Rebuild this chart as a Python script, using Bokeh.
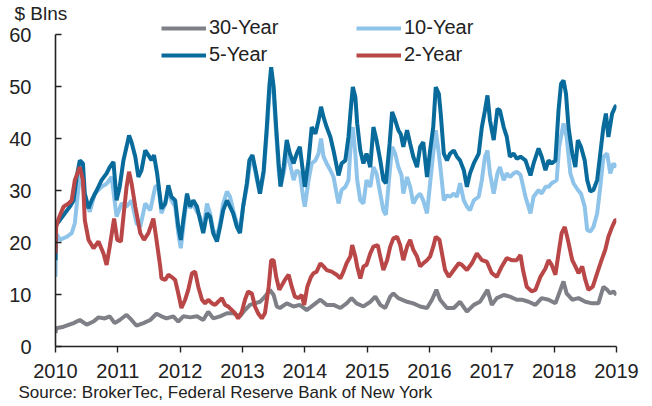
from bokeh.plotting import figure
from bokeh.models import Range1d, FixedTicker, Legend, LegendItem, Title
from bokeh.embed import file_html
from bokeh.resources import INLINE

# ---------------- data (decimal years, $ billions) ----------------
series_names = ["30-Year", "10-Year", "5-Year", "2-Year"]
x_tick_labels = ["2010", "2011", "2012", "2013", "2014", "2015", "2016", "2017", "2018", "2019"]
y_ticks = [0, 10, 20, 30, 40, 50, 60]

years_5 = [2010.00, 2010.01, 2010.07, 2010.15, 2010.23, 2010.29, 2010.34, 2010.39, 2010.44, 2010.47,
           2010.53, 2010.58, 2010.66, 2010.74, 2010.82, 2010.87, 2010.93, 2010.98, 2011.03, 2011.09,
           2011.14, 2011.18, 2011.22, 2011.28, 2011.33, 2011.38, 2011.44, 2011.49, 2011.54, 2011.58,
           2011.63, 2011.70, 2011.76, 2011.81, 2011.86, 2011.92, 2011.97, 2012.01, 2012.05, 2012.11,
           2012.16, 2012.21, 2012.27, 2012.32, 2012.37, 2012.43, 2012.48, 2012.53, 2012.59, 2012.64,
           2012.69, 2012.75, 2012.80, 2012.85, 2012.91, 2012.96, 2013.01, 2013.07, 2013.11, 2013.16,
           2013.22, 2013.28, 2013.34, 2013.39, 2013.43, 2013.46, 2013.50, 2013.54, 2013.58, 2013.61,
           2013.66, 2013.71, 2013.76, 2013.82, 2013.87, 2013.92, 2013.98, 2014.00, 2014.06, 2014.11,
           2014.17, 2014.22, 2014.26, 2014.30, 2014.35, 2014.41, 2014.46, 2014.54, 2014.59, 2014.65,
           2014.70, 2014.74, 2014.77, 2014.81, 2014.84, 2014.89, 2014.94, 2014.99, 2015.05, 2015.10,
           2015.15, 2015.21, 2015.26, 2015.30, 2015.36, 2015.40, 2015.45, 2015.50, 2015.54, 2015.58,
           2015.64, 2015.69, 2015.74, 2015.80, 2015.85, 2015.90, 2015.96, 2016.01, 2016.06, 2016.10,
           2016.15, 2016.18, 2016.23, 2016.28, 2016.33, 2016.39, 2016.44, 2016.49, 2016.55, 2016.60,
           2016.65, 2016.71, 2016.79, 2016.84, 2016.89, 2016.93, 2016.97, 2017.03, 2017.09, 2017.13,
           2017.19, 2017.24, 2017.29, 2017.35, 2017.40, 2017.46, 2017.54, 2017.62, 2017.67, 2017.75,
           2017.80, 2017.86, 2017.91, 2017.96, 2018.02, 2018.07, 2018.11, 2018.15, 2018.19, 2018.23,
           2018.29, 2018.34, 2018.38, 2018.43, 2018.49, 2018.53, 2018.58, 2018.63, 2018.69, 2018.74,
           2018.79, 2018.83, 2018.87, 2018.93, 2018.98, 2019.00]
vals_5 = [16.6, 23.4, 24.3, 25.6, 26.9, 28.1, 32.6, 35.8, 35.2, 29.4,
          26.6, 28.1, 30.0, 32.0, 33.3, 34.5, 35.5, 28.1, 30.7, 35.8,
          38.4, 40.6, 39.3, 36.5, 32.6, 33.9, 37.7, 36.8, 35.8, 36.8,
          33.3, 26.5, 27.5, 31.0, 28.8, 28.1, 23.0, 20.5, 24.3, 29.4,
          26.9, 28.1, 26.9, 24.3, 21.8, 25.6, 25.0, 21.8, 20.2, 23.0,
          26.2, 28.1, 26.9, 25.6, 23.0, 21.8, 26.9, 31.4, 35.8, 36.8,
          33.3, 29.4, 33.9, 42.2, 49.9, 53.7, 49.9, 42.2, 35.2, 30.8,
          34.5, 39.7, 37.1, 35.2, 37.1, 38.4, 32.6, 30.7, 35.8, 42.2,
          40.9, 43.5, 46.1, 44.1, 42.2, 40.3, 37.7, 32.9, 35.2, 35.8,
          40.3, 46.1, 49.9, 48.0, 42.9, 37.7, 35.2, 37.1, 34.5, 42.2,
          39.7, 35.8, 32.0, 31.4, 39.0, 45.1, 43.5, 41.6, 40.8, 38.4,
          41.6, 39.0, 36.5, 34.5, 38.4, 39.3, 32.6, 37.7, 42.2, 49.9,
          48.6, 44.8, 37.1, 35.8, 37.1, 37.7, 36.5, 35.8, 33.9, 30.7,
          33.3, 35.2, 37.1, 42.2, 45.4, 48.3, 43.5, 39.7, 45.7, 45.4,
          42.2, 40.3, 36.5, 37.1, 36.1, 36.5, 35.8, 32.9, 35.2, 38.1,
          36.5, 33.9, 35.8, 35.2, 35.8, 45.4, 50.5, 51.2, 48.6, 42.2,
          37.1, 34.5, 39.7, 38.4, 35.8, 32.0, 29.8, 30.1, 32.0, 37.1,
          42.2, 44.8, 40.3, 44.8, 46.1, 46.4]

years_10 = [2010.00, 2010.01, 2010.07, 2010.18, 2010.26, 2010.31, 2010.37, 2010.42, 2010.47, 2010.55,
            2010.63, 2010.74, 2010.82, 2010.90, 2010.98, 2011.06, 2011.14, 2011.22, 2011.30, 2011.36,
            2011.44, 2011.52, 2011.60, 2011.65, 2011.70, 2011.76, 2011.81, 2011.86, 2011.92, 2011.97,
            2012.01, 2012.05, 2012.11, 2012.16, 2012.21, 2012.27, 2012.32, 2012.37, 2012.43, 2012.48,
            2012.53, 2012.59, 2012.64, 2012.69, 2012.75, 2012.80, 2012.85, 2012.91, 2012.96, 2013.01,
            2013.07, 2013.12, 2013.17, 2013.23, 2013.28, 2013.34, 2013.39, 2013.43, 2013.46, 2013.50,
            2013.54, 2013.58, 2013.61, 2013.66, 2013.71, 2013.76, 2013.82, 2013.87, 2013.92, 2013.98,
            2014.00, 2014.06, 2014.11, 2014.17, 2014.22, 2014.26, 2014.30, 2014.35, 2014.41, 2014.46,
            2014.54, 2014.59, 2014.65, 2014.70, 2014.74, 2014.77, 2014.81, 2014.84, 2014.89, 2014.94,
            2014.99, 2015.05, 2015.10, 2015.15, 2015.21, 2015.26, 2015.30, 2015.36, 2015.40, 2015.45,
            2015.50, 2015.55, 2015.58, 2015.64, 2015.69, 2015.74, 2015.80, 2015.85, 2015.90, 2015.96,
            2016.01, 2016.06, 2016.10, 2016.15, 2016.18, 2016.23, 2016.28, 2016.33, 2016.39, 2016.44,
            2016.49, 2016.55, 2016.60, 2016.65, 2016.71, 2016.79, 2016.84, 2016.89, 2016.93, 2016.97,
            2017.03, 2017.09, 2017.13, 2017.19, 2017.24, 2017.29, 2017.35, 2017.40, 2017.46, 2017.54,
            2017.62, 2017.67, 2017.75, 2017.80, 2017.86, 2017.91, 2017.96, 2018.04, 2018.08, 2018.15,
            2018.20, 2018.26, 2018.31, 2018.38, 2018.43, 2018.49, 2018.53, 2018.58, 2018.63, 2018.69,
            2018.74, 2018.79, 2018.85, 2018.90, 2018.95, 2019.00]
vals_10 = [13.4, 21.8, 20.5, 21.1, 21.8, 23.7, 30.7, 33.3, 28.1, 25.9,
           29.4, 30.7, 31.3, 32.6, 25.0, 27.5, 26.9, 28.1, 23.7, 23.0,
           27.5, 26.2, 30.7, 31.0, 25.6, 27.5, 30.0, 28.1, 26.9, 21.8,
           18.9, 23.0, 28.8, 26.6, 27.5, 25.9, 24.9, 22.4, 27.5, 25.6,
           22.4, 21.1, 23.7, 27.5, 29.8, 28.8, 26.2, 23.7, 22.4, 26.9,
           30.7, 35.2, 35.8, 32.0, 29.4, 33.3, 40.9, 48.6, 51.0, 48.6,
           40.9, 33.9, 30.7, 33.3, 37.1, 35.2, 32.0, 33.9, 33.3, 28.1,
           26.9, 32.0, 35.2, 35.8, 37.1, 40.0, 36.5, 35.2, 33.9, 32.6,
           27.5, 30.1, 30.7, 32.0, 39.7, 42.2, 37.1, 32.0, 28.1, 27.5,
           32.0, 30.7, 34.5, 33.3, 29.4, 26.2, 25.3, 33.3, 38.4, 37.1,
           34.5, 33.0, 29.4, 32.6, 30.7, 27.5, 28.8, 29.4, 28.1, 25.6,
           31.4, 37.1, 41.6, 37.1, 33.9, 28.1, 29.1, 28.8, 29.4, 28.8,
           31.4, 28.1, 26.9, 26.2, 28.1, 28.8, 32.0, 36.5, 37.7, 33.3,
           29.4, 33.3, 34.5, 32.0, 33.3, 32.6, 33.3, 33.6, 33.0, 28.8,
           25.6, 28.8, 30.1, 29.4, 30.7, 30.7, 31.4, 32.0, 38.4, 42.9,
           40.3, 33.3, 31.4, 30.1, 29.4, 26.9, 22.4, 22.1, 23.0, 25.6,
           30.7, 36.5, 37.1, 33.3, 35.2, 34.5]

years_2 = [2010.00, 2010.01, 2010.05, 2010.13, 2010.21, 2010.26, 2010.31, 2010.37, 2010.39, 2010.44,
           2010.47, 2010.53, 2010.61, 2010.69, 2010.77, 2010.82, 2010.87, 2010.94, 2010.99, 2011.05,
           2011.10, 2011.14, 2011.18, 2011.22, 2011.28, 2011.36, 2011.42, 2011.49, 2011.57, 2011.62,
           2011.68, 2011.70, 2011.76, 2011.81, 2011.86, 2011.92, 2011.97, 2012.02, 2012.08, 2012.13,
           2012.19, 2012.24, 2012.29, 2012.35, 2012.40, 2012.45, 2012.51, 2012.56, 2012.61, 2012.67,
           2012.72, 2012.77, 2012.83, 2012.88, 2012.93, 2012.99, 2013.04, 2013.09, 2013.15, 2013.20,
           2013.25, 2013.31, 2013.36, 2013.42, 2013.46, 2013.50, 2013.54, 2013.59, 2013.68, 2013.74,
           2013.79, 2013.84, 2013.90, 2013.95, 2013.99, 2014.04, 2014.10, 2014.14, 2014.19, 2014.25,
           2014.30, 2014.35, 2014.43, 2014.51, 2014.57, 2014.62, 2014.67, 2014.73, 2014.76, 2014.81,
           2014.84, 2014.89, 2014.94, 2014.99, 2015.05, 2015.10, 2015.17, 2015.21, 2015.26, 2015.32,
           2015.37, 2015.42, 2015.48, 2015.53, 2015.58, 2015.64, 2015.69, 2015.74, 2015.80, 2015.85,
           2015.90, 2015.96, 2016.01, 2016.06, 2016.10, 2016.16, 2016.20, 2016.25, 2016.31, 2016.39,
           2016.47, 2016.52, 2016.60, 2016.68, 2016.76, 2016.84, 2016.92, 2017.00, 2017.08, 2017.16,
           2017.24, 2017.32, 2017.40, 2017.46, 2017.50, 2017.56, 2017.64, 2017.70, 2017.78, 2017.86,
           2017.91, 2017.96, 2018.02, 2018.07, 2018.12, 2018.17, 2018.22, 2018.29, 2018.34, 2018.39,
           2018.45, 2018.50, 2018.55, 2018.62, 2018.69, 2018.76, 2018.82, 2018.87, 2018.93, 2018.98,
           2019.00]
vals_2 = [17.9, 23.0, 24.6, 26.9, 27.5, 28.1, 32.0, 33.9, 34.5, 32.0,
          24.3, 20.5, 18.9, 20.2, 17.9, 15.7, 19.2, 24.6, 20.5, 20.2,
          26.2, 30.7, 33.6, 31.4, 26.9, 21.8, 20.5, 21.8, 24.6, 20.5,
          15.4, 13.1, 12.8, 13.8, 13.4, 12.8, 10.2, 7.4, 9.0, 10.9,
          14.1, 14.4, 11.5, 9.0, 8.3, 9.0, 8.3, 8.0, 8.6, 9.3,
          8.0, 7.7, 7.0, 6.4, 5.4, 6.7, 9.0, 10.6, 10.2, 7.7,
          6.4, 5.4, 6.4, 11.5, 16.6, 16.6, 13.4, 10.9, 12.8, 13.8,
          11.5, 9.6, 9.3, 9.9, 8.0, 11.5, 13.4, 14.1, 14.4, 16.0,
          15.4, 14.7, 14.4, 13.8, 13.1, 14.4, 16.0, 17.3, 19.5, 17.3,
          15.4, 13.1, 15.4, 15.7, 17.9, 19.2, 19.5, 17.3, 14.7, 16.6,
          19.2, 20.8, 21.1, 19.5, 16.6, 19.2, 20.5, 18.6, 17.3, 15.4,
          16.0, 16.6, 17.3, 19.2, 21.1, 20.5, 17.9, 14.7, 13.4, 14.7,
          16.0, 15.7, 14.7, 16.0, 17.9, 16.6, 16.3, 14.1, 13.4, 15.4,
          17.0, 16.6, 16.6, 17.6, 14.7, 11.5, 10.6, 10.9, 13.4, 15.0,
          16.6, 15.7, 13.8, 17.9, 21.8, 23.0, 20.5, 16.6, 15.4, 14.1,
          15.4, 12.8, 10.9, 11.5, 14.1, 16.6, 18.6, 21.1, 23.0, 24.3,
          24.3]

years_30 = [2010.00, 2010.01, 2010.13, 2010.29, 2010.39, 2010.50, 2010.61, 2010.69, 2010.79, 2010.87,
            2010.95, 2011.03, 2011.14, 2011.22, 2011.30, 2011.41, 2011.52, 2011.62, 2011.70, 2011.78,
            2011.89, 2011.97, 2012.05, 2012.16, 2012.27, 2012.37, 2012.45, 2012.53, 2012.64, 2012.75,
            2012.85, 2012.96, 2013.04, 2013.12, 2013.20, 2013.28, 2013.36, 2013.44, 2013.50, 2013.55,
            2013.60, 2013.71, 2013.82, 2013.92, 2014.03, 2014.14, 2014.25, 2014.35, 2014.46, 2014.57,
            2014.67, 2014.75, 2014.83, 2014.94, 2015.05, 2015.13, 2015.21, 2015.29, 2015.37, 2015.42,
            2015.50, 2015.64, 2015.74, 2015.85, 2015.96, 2016.04, 2016.11, 2016.17, 2016.28, 2016.39,
            2016.49, 2016.60, 2016.71, 2016.81, 2016.93, 2017.00, 2017.08, 2017.19, 2017.29, 2017.40,
            2017.48, 2017.59, 2017.70, 2017.80, 2017.91, 2018.02, 2018.10, 2018.15, 2018.20, 2018.29,
            2018.39, 2018.50, 2018.61, 2018.71, 2018.79, 2018.85, 2018.90, 2018.95, 2019.00]
vals_30 = [2.6, 3.5, 3.8, 4.5, 5.1, 4.2, 4.8, 5.6, 5.4, 5.8,
           4.5, 5.1, 6.1, 5.1, 4.0, 4.5, 5.1, 6.3, 5.8, 5.4,
           5.8, 4.8, 5.8, 5.6, 5.8, 5.1, 6.7, 5.4, 5.8, 6.4,
           6.4, 5.8, 7.0, 8.0, 8.3, 8.6, 9.6, 10.9, 9.9, 7.7,
           7.4, 8.3, 7.7, 8.0, 7.0, 8.0, 9.0, 8.0, 8.0, 7.4,
           8.3, 9.3, 8.3, 7.7, 8.6, 9.6, 8.0, 7.4, 9.6, 10.2,
           9.3, 8.6, 8.3, 7.7, 7.4, 9.0, 10.9, 9.0, 7.4, 7.4,
           8.6, 6.7, 8.0, 8.6, 10.9, 8.0, 9.3, 9.9, 9.6, 9.0,
           9.0, 8.6, 8.0, 9.3, 9.0, 8.3, 10.9, 12.5, 10.2, 9.0,
           9.3, 8.6, 8.3, 8.3, 11.5, 10.9, 10.2, 10.6, 9.9]

colors = {"30-Year": "#7F8087", "10-Year": "#8FC4EA", "5-Year": "#086B9C", "2-Year": "#BA4747"}

FONT = "Liberation Sans"
TXT = "#222222"

# frame spans from near the top of the canvas down to the x axis; y axis line bounded to 0..60
p = figure(width=650, height=406, output_backend="svg", toolbar_location=None,
           x_range=Range1d(2010, 2019), y_range=Range1d(0, 65.77), title=None,
           min_border_left=55, min_border_right=34, min_border_top=4, min_border_bottom=60)
p.outline_line_color = None
p.xgrid.visible = False
p.ygrid.visible = False
p.background_fill_color = "white"
p.border_fill_color = "white"

r30 = p.line(years_30, vals_30, line_color=colors["30-Year"], line_width=4)
r10 = p.line(years_10, vals_10, line_color=colors["10-Year"], line_width=4)
r5 = p.line(years_5, vals_5, line_color=colors["5-Year"], line_width=4)
r2 = p.line(years_2, vals_2, line_color=colors["2-Year"], line_width=4)

# axes
xa = p.xaxis[0]
xa.ticker = FixedTicker(ticks=[int(t) for t in x_tick_labels])
xa.major_label_overrides = {int(t): t for t in x_tick_labels}
xa.minor_tick_line_color = None
xa.major_tick_in = 0
xa.major_tick_out = 6
xa.major_label_standoff = 11
ya = p.yaxis[0]
ya.ticker = FixedTicker(ticks=y_ticks)
ya.bounds = (y_ticks[0], y_ticks[-1])
ya.minor_tick_line_color = None
ya.major_tick_in = 6
ya.major_tick_out = 0
ya.major_label_standoff = 24
for ax in (xa, ya):
    ax.axis_line_color = TXT
    ax.axis_line_width = 1.6
    ax.major_tick_line_color = TXT
    ax.major_tick_line_width = 1.4
    ax.major_label_text_font = FONT
    ax.major_label_text_font_size = "20px"
    ax.major_label_text_color = TXT

# legends (two columns)
def make_legend(items, x):
    lg = Legend(items=items, location=(x, 280), orientation="vertical",
                border_line_color=None, background_fill_alpha=0, padding=0, margin=0,
                spacing=4, label_standoff=3, glyph_width=45, glyph_height=20, label_height=20,
                label_text_font=FONT, label_text_font_size="20px", label_text_color=TXT)
    return lg

leg1 = make_legend([LegendItem(label=series_names[0], renderers=[r30]),
                    LegendItem(label=series_names[2], renderers=[r5])], 106)
leg2 = make_legend([LegendItem(label=series_names[1], renderers=[r10]),
                    LegendItem(label=series_names[3], renderers=[r2])], 301)
p.add_layout(leg1)
p.add_layout(leg2)

# unit label at the top-left (a title in the top panel, pulled down with a negative standoff)
p.add_layout(Title(text="$ Blns", align="left", offset=-41, standoff=-39, text_font=FONT,
                   text_font_size="19px", text_font_style="normal", text_color=TXT), "above")

p.add_layout(Title(text="Source: BrokerTec, Federal Reserve Bank of New York", align="left",
                   offset=-37, standoff=0, text_font=FONT, text_font_size="17px",
                   text_font_style="normal", text_color=TXT), "below")

open("out.html", "w").write(file_html(p, INLINE))
